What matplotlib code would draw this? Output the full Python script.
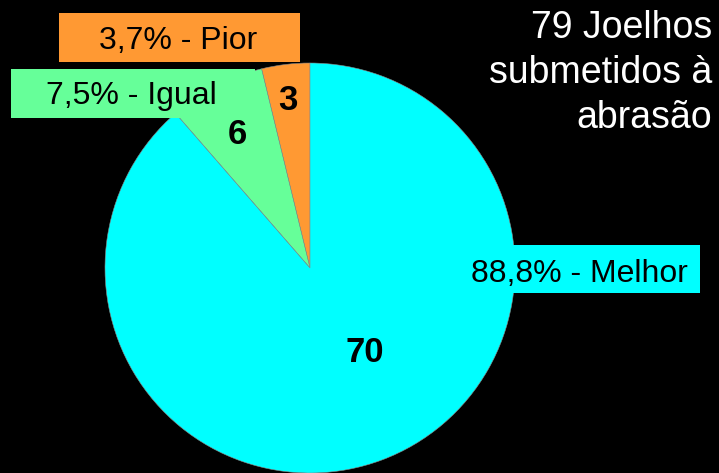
import matplotlib
matplotlib.use("Agg")
import matplotlib.pyplot as plt
from matplotlib.patches import Rectangle

plt.rcParams['font.family'] = ['Liberation Sans', 'DejaVu Sans']

categories = ["Pior", "Igual", "Melhor"]
counts = [3, 6, 70]
percent_labels = ["3,7%", "7,5%", "88,8%"]
colors = ["#FF9933", "#66FF99", "#00FFFF"]
title_lines = ["79 Joelhos", "submetidos à", "abrasão"]

W, H = 719, 473
fig = plt.figure(figsize=(W / 100, H / 100), dpi=100, facecolor="black")
ax = fig.add_axes([0, 0, 1, 1])
ax.set_facecolor("black")

def Y(py):
    return H - py

cx, cy, r = 310, Y(268), 205
ax.pie(counts, colors=colors, startangle=90, counterclock=True,
       center=(cx, cy), radius=r, frame=True,
       wedgeprops=dict(edgecolor="#8a8a8a", linewidth=0.4))
ax.set_xlim(0, W)
ax.set_ylim(0, H)
ax.set_aspect("equal")
ax.axis("off")

# label boxes (x0, y0_px, x1, y1_px)
boxes = [(59, 13, 300, 62), (11, 69, 255, 118), (460, 245, 700, 293)]
text_pos = [(178.5, 49), (131, 104), (579.5, 282)]
for i in range(3):
    x0, y0, x1, y1 = boxes[i]
    ax.add_patch(Rectangle((x0, Y(y1)), x1 - x0, y1 - y0,
                           facecolor=colors[i], edgecolor="none", zorder=5))
    tx, ty = text_pos[i]
    ax.text(tx, Y(ty), f"{percent_labels[i]} - {categories[i]}",
            ha="center", va="baseline", fontsize=23, color="black", zorder=6)

# counts inside slices
count_pos = [(288, 110), (237, 144), (365, 362)]
for i in range(3):
    px, py = count_pos[i]
    ax.text(px, Y(py), str(counts[i]), ha="center", va="baseline",
            fontsize=25, fontweight="bold", color="black", zorder=6)

# title
baselines = [38, 83, 128]
for line, b in zip(title_lines, baselines):
    ax.text(712, Y(b), line, ha="right", va="baseline",
            fontsize=27, color="white", zorder=6)

fig.savefig("out.png", dpi=100, facecolor="black")
